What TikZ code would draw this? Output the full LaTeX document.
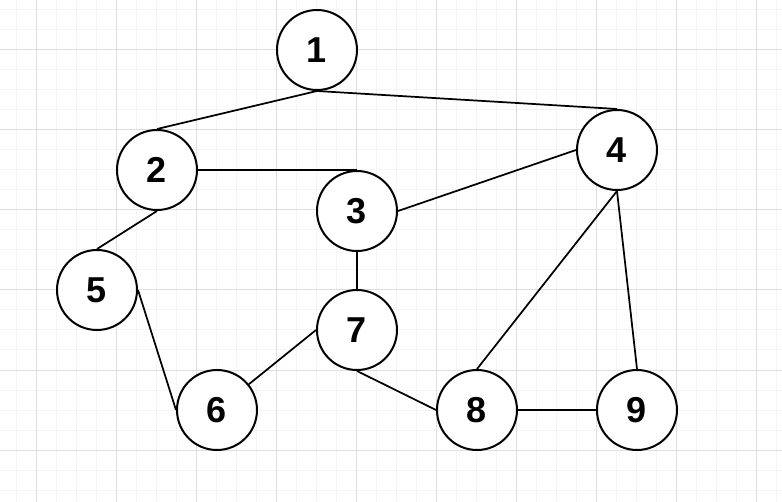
\documentclass[tikz,border=0pt]{standalone}
\usepackage{fontspec}
\setmainfont{Liberation Sans}

\definecolor{minorgrid}{RGB}{245,245,245}
\definecolor{majorgrid}{RGB}{222,222,222}

\begin{document}
\begin{tikzpicture}[x=0.75pt,y=0.75pt,yscale=-1]
\tikzset{
  vertex/.style={circle,draw,line width=1.5,minimum size=60pt,inner sep=0pt,fill=white,
    font=\fontsize{27}{32}\selectfont\bfseries},
  edge/.style={line width=1.3}
}
\useasboundingbox (0,0) rectangle (782,502);

% Grid
\foreach \x in {16,36,...,776} \draw [color=minorgrid,line width=0.75] (\x,0) -- (\x,502);
\foreach \y in {10,30,...,490} \draw [color=minorgrid,line width=0.75] (0,\y) -- (782,\y);
\foreach \x in {36,116,...,756} \draw [color=majorgrid,line width=0.75] (\x,0) -- (\x,502);
\foreach \y in {50,130,...,450} \draw [color=majorgrid,line width=0.75] (0,\y) -- (782,\y);

% Vertices
\node [vertex] (n1) at (317,50) {1};
\node [vertex] (n2) at (157,170) {2};
\node [vertex] (n3) at (357,211) {3};
\node [vertex] (n4) at (617,150) {4};
\node [vertex] (n5) at (97,290) {5};
\node [vertex] (n6) at (217,410) {6};
\node [vertex] (n7) at (357,330) {7};
\node [vertex] (n8) at (477,410) {8};
\node [vertex] (n9) at (637,410) {9};

% Edges
\draw [edge] (n1.south) -- (n2.north);
\draw [edge] (n1.south) -- (n4.north);
\draw [edge] (n2.east) -- (n3.north);
\draw [edge] (n2.south) -- (n5.north);
\draw [edge] (n3.east) -- (n4.west);
\draw [edge] (n3.south) -- (n7.north);
\draw [edge] (n5.east) -- (n6.west);
\draw [edge] (n7.west) -- (n6);
\draw [edge] (n7.south) -- (n8.west);
\draw [edge] (n4.south) -- (n8.north);
\draw [edge] (n4.south) -- (n9.north);
\draw [edge] (n8.east) -- (n9.west);

\end{tikzpicture}
\end{document}
